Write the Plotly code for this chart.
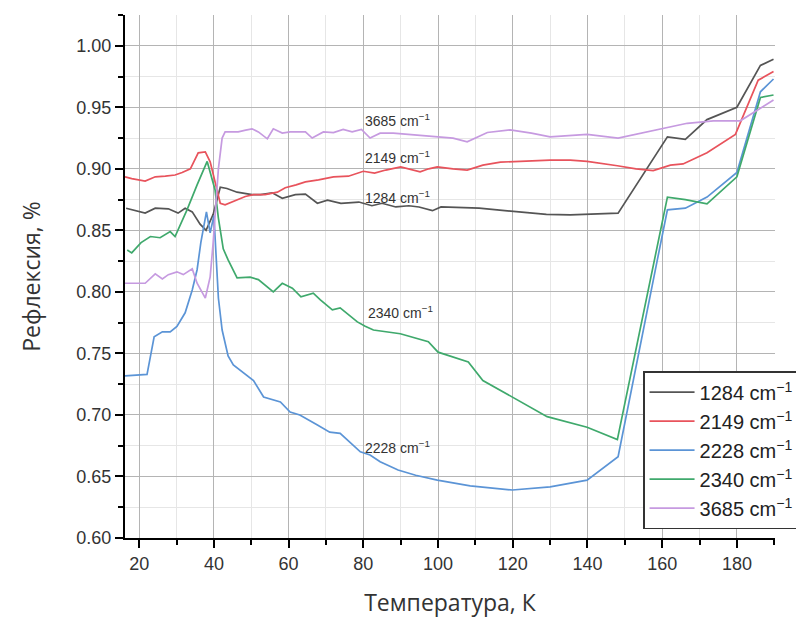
import plotly.graph_objects as go

# ---- data ----
t_1284 = [16.5, 18, 21.6, 24.3, 27.8, 30.4, 32.3, 34.2, 36.3, 37.9, 39.8, 41.7, 43.5, 46.2, 50.2, 52.5,
          55.6, 58.3, 61.8, 64.5, 67.7, 70.4, 74, 78.8, 82.3, 85, 88.7, 92.2, 94.9, 98.5, 100.8, 111,
          120, 129, 135.4, 148.2, 161.4, 166.2, 172, 180, 186.3, 189.8]
r_1284 = [0.868, 0.867, 0.864, 0.868, 0.8675, 0.864, 0.868, 0.865, 0.855, 0.850, 0.863, 0.885, 0.884,
          0.881, 0.879, 0.879, 0.8805, 0.876, 0.879, 0.8795, 0.872, 0.8745, 0.872, 0.873, 0.870, 0.872,
          0.869, 0.870, 0.869, 0.866, 0.869, 0.868, 0.8656, 0.863, 0.8626, 0.864, 0.926, 0.924, 0.940,
          0.950, 0.984, 0.989]

t_2149 = [16.2, 18, 21.6, 24.3, 27, 29.6, 31.5, 33.7, 35.8, 37.7, 39, 41.7, 43, 45.5, 48.4, 50.6, 53.7,
          57, 59.1, 62, 64.5, 68, 72, 76, 80, 83, 86, 90, 93, 95.2, 97.5, 99.8, 104, 107.8, 112, 116.7,
          122, 130, 135.4, 139.9, 148, 153, 157.6, 162.2, 165.6, 172, 179.6, 185.7, 189.8]
r_2149 = [0.8935, 0.892, 0.890, 0.8935, 0.894, 0.895, 0.897, 0.900, 0.913, 0.9138, 0.9057, 0.872, 0.8707,
          0.874, 0.8775, 0.879, 0.879, 0.881, 0.8846, 0.887, 0.8894, 0.891, 0.8935, 0.894, 0.898, 0.8965,
          0.899, 0.9016, 0.8995, 0.8976, 0.900, 0.9016, 0.900, 0.899, 0.903, 0.9055, 0.906, 0.907, 0.907,
          0.906, 0.9025, 0.900, 0.8986, 0.903, 0.904, 0.913, 0.928, 0.972, 0.979]

t_2228 = [16.2, 20, 22.1, 24, 26.2, 28.3, 30.1, 32.3, 34.2, 35.5, 36.5, 38, 39, 40, 41.2, 42.2, 43.8,
          45.2, 47.5, 50.6, 53.3, 57.8, 60.4, 63, 67.6, 71, 73.8, 79.2, 81.8, 84.5, 89.3, 94, 99.8,
          108.6, 119.9, 130, 139.9, 148.2, 158.7, 161.4, 166.2, 172, 180, 186.3, 189.8]
r_2228 = [0.7317, 0.7325, 0.733, 0.7635, 0.7675, 0.7675, 0.772, 0.783, 0.8016, 0.818, 0.840, 0.865, 0.848,
          0.862, 0.795, 0.769, 0.748, 0.7406, 0.735, 0.728, 0.7146, 0.7106, 0.7024, 0.700, 0.692, 0.686,
          0.685, 0.670, 0.6675, 0.662, 0.6553, 0.651, 0.647, 0.6423, 0.639, 0.6415, 0.647, 0.666, 0.826,
          0.8667, 0.868, 0.877, 0.897, 0.9626, 0.973]

t_2340 = [16.8, 18, 20.5, 23, 25.6, 28.3, 29.6, 31, 32.8, 35.5, 38.2, 40.3, 41.2, 42.5, 43.8, 46.2, 49.7,
          51.9, 53, 55.9, 58.3, 61, 63.3, 66.6, 68.5, 71.7, 73.8, 78.4, 80.5, 82.7, 89.9, 97.4, 100,
          106.7, 108.1, 112, 120, 129.2, 139.9, 148, 161.4, 166.2, 172, 180, 186.3, 189.8]
r_2340 = [0.834, 0.8317, 0.840, 0.845, 0.844, 0.849, 0.845, 0.8545, 0.8667, 0.887, 0.906, 0.883, 0.860,
          0.835, 0.826, 0.8114, 0.812, 0.810, 0.8073, 0.800, 0.807, 0.803, 0.796, 0.799, 0.7935, 0.7854,
          0.787, 0.7756, 0.772, 0.769, 0.766, 0.7595, 0.751, 0.7447, 0.743, 0.728, 0.7146, 0.6986, 0.690,
          0.680, 0.877, 0.875, 0.8715, 0.8935, 0.958, 0.960]

t_3685 = [16.2, 21.6, 24.3, 26.2, 27.8, 30.1, 31.8, 34.2, 35.5, 37.7, 39, 39.8, 41.2, 42.2, 43, 46.5,
          48.5, 50.2, 51.9, 54.3, 55.9, 58.3, 60.4, 64.5, 66.3, 69.3, 72, 74.6, 77, 79.5, 81.8, 84.5, 88,
          92, 96, 99.8, 104, 107.8, 113.2, 119.3, 125, 130, 135.4, 139.9, 148.2, 159.5, 166.7, 173.7,
          180.9, 189.8]
r_3685 = [0.807, 0.807, 0.8146, 0.8106, 0.814, 0.8163, 0.814, 0.8187, 0.807, 0.795, 0.8122, 0.840, 0.900,
          0.925, 0.930, 0.930, 0.9315, 0.9325, 0.930, 0.9244, 0.9325, 0.929, 0.930, 0.930, 0.925, 0.930,
          0.9295, 0.932, 0.930, 0.932, 0.925, 0.929, 0.929, 0.928, 0.927, 0.926, 0.925, 0.922, 0.9295,
          0.9317, 0.929, 0.926, 0.927, 0.928, 0.925, 0.932, 0.937, 0.939, 0.939, 0.956]

series_names = ["1284 cm<sup>−1</sup>", "2149 cm<sup>−1</sup>", "2228 cm<sup>−1</sup>",
                "2340 cm<sup>−1</sup>", "3685 cm<sup>−1</sup>"]
series_t = [t_1284, t_2149, t_2228, t_2340, t_3685]
series_r = [r_1284, r_2149, r_2228, r_2340, r_3685]
series_colors = ["#555555", "#e8535c", "#5b94d6", "#3fa96c", "#c69ae0"]

label_x = [80.0, 80.0, 80.0, 80.8, 80.0]
label_y = [0.877, 0.9098, 0.674, 0.7837, 0.940]

x_ticks = [20, 40, 60, 80, 100, 120, 140, 160, 180]
y_ticks = [0.60, 0.65, 0.70, 0.75, 0.80, 0.85, 0.90, 0.95, 1.00]

fig = go.Figure()
for name, t, r, c in zip(series_names, series_t, series_r, series_colors):
    fig.add_trace(go.Scatter(x=t, y=r, mode="lines", name=name,
                             line=dict(color=c, width=1.7)))

for name, lx, ly in zip(series_names, label_x, label_y):
    fig.add_annotation(x=lx, y=ly, text=name, showarrow=False, xanchor="left", yanchor="middle",
                       font=dict(family="Liberation Sans, Arial", size=14, color="#333333"))

axis_common = dict(
    showline=True, linecolor="black", linewidth=2, mirror=False,
    ticks="outside", ticklen=8, tickwidth=2, tickcolor="black",
    showgrid=True, gridcolor="#b4b4b4", gridwidth=1, zeroline=False,
    tickfont=dict(family="Liberation Sans, Arial", size=18, color="#333333"),
)

fig.update_xaxes(range=[16.2, 190.2], tickvals=x_ticks, **axis_common,
                 minor=dict(dtick=10, tick0=0, ticks="outside", ticklen=5, tickwidth=2,
                            tickcolor="black", showgrid=True, gridcolor="#e6e6e6", gridwidth=1),
                 title=dict(text="Температура, К", standoff=22,
                            font=dict(family="Open Sans", size=23, color="#333333")))
fig.update_yaxes(range=[0.6, 1.025], tickvals=y_ticks, tickformat=".2f", **axis_common,
                 minor=dict(dtick=0.025, tick0=0.6, ticks="outside", ticklen=5, tickwidth=2,
                            tickcolor="black", showgrid=True, gridcolor="#e6e6e6", gridwidth=1),
                 title=dict(text="Рефлексия, %", standoff=29,
                            font=dict(family="Open Sans", size=23, color="#333333")))

fig.update_layout(
    width=796, height=632,
    margin=dict(l=125, r=21, t=15, b=94, autoexpand=False),
    paper_bgcolor="white", plot_bgcolor="white",
    showlegend=True,
    legend=dict(x=0.797, y=0.319, xanchor="left", yanchor="top",
                bgcolor="white", bordercolor="#333333", borderwidth=1.5,
                font=dict(family="Liberation Sans, Arial", size=20, color="#222222"),
                itemwidth=45, tracegroupgap=0),
)

fig.write_html("out.html")
